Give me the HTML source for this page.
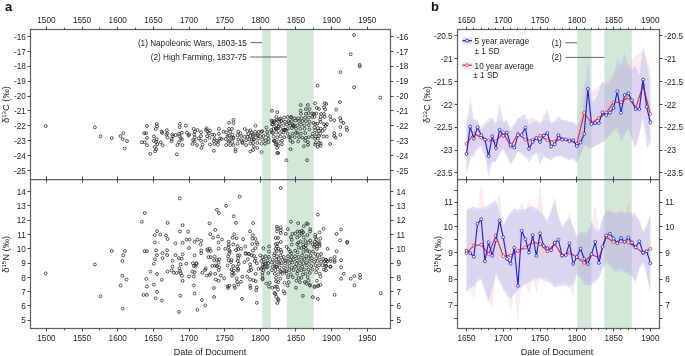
<!DOCTYPE html>
<html><head><meta charset="utf-8"><style>html,body{margin:0;padding:0;background:#fff;}body{width:685px;height:356px;position:relative;overflow:hidden;}</style></head>
<body>
<svg width="685" height="356" viewBox="0 0 685 356" style="position:absolute;left:0;top:0;will-change:transform"><rect x="262.30" y="29.50" width="8.60" height="299.00" fill="#d3e8d9"/><rect x="286.80" y="29.50" width="26.80" height="299.00" fill="#d3e8d9"/><g fill="none" stroke="#222" stroke-width="0.75"><circle cx="45.7" cy="126.0" r="1.45"/><circle cx="94.9" cy="127.4" r="1.45"/><circle cx="100.5" cy="136.3" r="1.45"/><circle cx="111.8" cy="138.0" r="1.45"/><circle cx="123.4" cy="133.2" r="1.45"/><circle cx="120.4" cy="136.1" r="1.45"/><circle cx="122.7" cy="139.2" r="1.45"/><circle cx="127.0" cy="141.1" r="1.45"/><circle cx="124.7" cy="148.4" r="1.45"/><circle cx="147.0" cy="125.9" r="1.45"/><circle cx="144.2" cy="133.2" r="1.45"/><circle cx="146.1" cy="133.2" r="1.45"/><circle cx="147.0" cy="138.0" r="1.45"/><circle cx="141.9" cy="142.3" r="1.45"/><circle cx="144.7" cy="142.3" r="1.45"/><circle cx="147.0" cy="145.3" r="1.45"/><circle cx="156.7" cy="124.0" r="1.45"/><circle cx="157.1" cy="126.2" r="1.45"/><circle cx="155.8" cy="129.0" r="1.45"/><circle cx="161.6" cy="131.6" r="1.45"/><circle cx="162.1" cy="133.0" r="1.45"/><circle cx="166.9" cy="130.2" r="1.45"/><circle cx="167.4" cy="133.5" r="1.45"/><circle cx="166.3" cy="134.7" r="1.45"/><circle cx="167.6" cy="137.5" r="1.45"/><circle cx="153.9" cy="136.3" r="1.45"/><circle cx="156.7" cy="139.2" r="1.45"/><circle cx="153.7" cy="140.8" r="1.45"/><circle cx="156.0" cy="142.0" r="1.45"/><circle cx="160.7" cy="142.3" r="1.45"/><circle cx="157.3" cy="144.2" r="1.45"/><circle cx="162.7" cy="145.3" r="1.45"/><circle cx="154.7" cy="147.0" r="1.45"/><circle cx="156.2" cy="149.3" r="1.45"/><circle cx="155.1" cy="151.2" r="1.45"/><circle cx="150.3" cy="153.8" r="1.45"/><circle cx="179.9" cy="123.8" r="1.45"/><circle cx="185.8" cy="125.7" r="1.45"/><circle cx="179.6" cy="127.2" r="1.45"/><circle cx="172.3" cy="134.5" r="1.45"/><circle cx="172.9" cy="136.2" r="1.45"/><circle cx="171.7" cy="139.0" r="1.45"/><circle cx="171.7" cy="141.2" r="1.45"/><circle cx="175.7" cy="135.0" r="1.45"/><circle cx="179.0" cy="133.9" r="1.45"/><circle cx="179.6" cy="136.2" r="1.45"/><circle cx="180.7" cy="138.4" r="1.45"/><circle cx="181.9" cy="139.5" r="1.45"/><circle cx="179.0" cy="142.3" r="1.45"/><circle cx="177.4" cy="145.1" r="1.45"/><circle cx="182.4" cy="145.1" r="1.45"/><circle cx="181.9" cy="132.8" r="1.45"/><circle cx="186.9" cy="132.8" r="1.45"/><circle cx="189.2" cy="134.5" r="1.45"/><circle cx="188.6" cy="135.6" r="1.45"/><circle cx="193.7" cy="128.9" r="1.45"/><circle cx="194.8" cy="131.7" r="1.45"/><circle cx="194.2" cy="134.5" r="1.45"/><circle cx="194.8" cy="137.3" r="1.45"/><circle cx="193.1" cy="140.1" r="1.45"/><circle cx="194.8" cy="141.2" r="1.45"/><circle cx="192.5" cy="144.0" r="1.45"/><circle cx="197.0" cy="145.1" r="1.45"/><circle cx="197.6" cy="130.0" r="1.45"/><circle cx="201.0" cy="132.2" r="1.45"/><circle cx="201.0" cy="136.2" r="1.45"/><circle cx="198.7" cy="138.4" r="1.45"/><circle cx="201.0" cy="140.7" r="1.45"/><circle cx="202.6" cy="144.6" r="1.45"/><circle cx="201.5" cy="148.0" r="1.45"/><circle cx="206.6" cy="128.3" r="1.45"/><circle cx="206.0" cy="130.0" r="1.45"/><circle cx="207.7" cy="131.7" r="1.45"/><circle cx="209.9" cy="130.5" r="1.45"/><circle cx="208.8" cy="133.3" r="1.45"/><circle cx="207.1" cy="136.2" r="1.45"/><circle cx="209.4" cy="137.8" r="1.45"/><circle cx="205.4" cy="140.7" r="1.45"/><circle cx="209.9" cy="144.6" r="1.45"/><circle cx="212.2" cy="134.5" r="1.45"/><circle cx="214.4" cy="135.0" r="1.45"/><circle cx="214.4" cy="139.0" r="1.45"/><circle cx="213.9" cy="141.2" r="1.45"/><circle cx="217.2" cy="140.7" r="1.45"/><circle cx="217.8" cy="144.6" r="1.45"/><circle cx="214.4" cy="144.0" r="1.45"/><circle cx="218.9" cy="128.9" r="1.45"/><circle cx="218.9" cy="133.9" r="1.45"/><circle cx="220.1" cy="138.4" r="1.45"/><circle cx="221.7" cy="139.0" r="1.45"/><circle cx="218.4" cy="141.8" r="1.45"/><circle cx="223.4" cy="131.7" r="1.45"/><circle cx="226.2" cy="132.2" r="1.45"/><circle cx="227.4" cy="136.2" r="1.45"/><circle cx="225.7" cy="139.0" r="1.45"/><circle cx="226.2" cy="145.1" r="1.45"/><circle cx="229.0" cy="122.7" r="1.45"/><circle cx="233.5" cy="119.9" r="1.45"/><circle cx="233.5" cy="123.2" r="1.45"/><circle cx="229.0" cy="128.9" r="1.45"/><circle cx="231.9" cy="128.9" r="1.45"/><circle cx="230.2" cy="131.7" r="1.45"/><circle cx="232.4" cy="134.5" r="1.45"/><circle cx="229.0" cy="135.6" r="1.45"/><circle cx="231.3" cy="137.8" r="1.45"/><circle cx="233.5" cy="137.8" r="1.45"/><circle cx="228.5" cy="141.8" r="1.45"/><circle cx="232.4" cy="141.8" r="1.45"/><circle cx="230.2" cy="145.1" r="1.45"/><circle cx="233.5" cy="145.1" r="1.45"/><circle cx="213.9" cy="150.8" r="1.45"/><circle cx="176.8" cy="154.3" r="1.45"/><circle cx="354.1" cy="35.0" r="1.45"/><circle cx="350.7" cy="54.3" r="1.45"/><circle cx="359.7" cy="64.9" r="1.45"/><circle cx="359.7" cy="66.5" r="1.45"/><circle cx="340.5" cy="72.1" r="1.45"/><circle cx="317.6" cy="85.6" r="1.45"/><circle cx="354.1" cy="87.2" r="1.45"/><circle cx="380.4" cy="97.6" r="1.45"/><circle cx="339.9" cy="102.1" r="1.45"/><circle cx="315.1" cy="103.4" r="1.45"/><circle cx="324.6" cy="103.1" r="1.45"/><circle cx="326.3" cy="103.9" r="1.45"/><circle cx="316.7" cy="107.9" r="1.45"/><circle cx="319.0" cy="109.0" r="1.45"/><circle cx="324.0" cy="107.3" r="1.45"/><circle cx="325.2" cy="109.6" r="1.45"/><circle cx="336.2" cy="109.6" r="1.45"/><circle cx="312.2" cy="113.5" r="1.45"/><circle cx="313.9" cy="114.0" r="1.45"/><circle cx="316.2" cy="113.5" r="1.45"/><circle cx="321.2" cy="114.0" r="1.45"/><circle cx="324.0" cy="114.0" r="1.45"/><circle cx="312.2" cy="116.9" r="1.45"/><circle cx="314.5" cy="116.9" r="1.45"/><circle cx="320.7" cy="116.9" r="1.45"/><circle cx="324.6" cy="116.9" r="1.45"/><circle cx="330.2" cy="116.3" r="1.45"/><circle cx="330.8" cy="119.7" r="1.45"/><circle cx="334.2" cy="120.2" r="1.45"/><circle cx="340.3" cy="118.0" r="1.45"/><circle cx="340.9" cy="120.8" r="1.45"/><circle cx="343.5" cy="123.0" r="1.45"/><circle cx="320.1" cy="119.7" r="1.45"/><circle cx="320.7" cy="121.9" r="1.45"/><circle cx="313.4" cy="123.0" r="1.45"/><circle cx="315.1" cy="124.2" r="1.45"/><circle cx="317.3" cy="123.6" r="1.45"/><circle cx="324.0" cy="124.2" r="1.45"/><circle cx="326.9" cy="124.2" r="1.45"/><circle cx="325.7" cy="125.8" r="1.45"/><circle cx="314.5" cy="127.5" r="1.45"/><circle cx="317.9" cy="128.1" r="1.45"/><circle cx="320.7" cy="128.7" r="1.45"/><circle cx="324.6" cy="128.7" r="1.45"/><circle cx="340.3" cy="127.0" r="1.45"/><circle cx="346.5" cy="127.5" r="1.45"/><circle cx="347.1" cy="130.1" r="1.45"/><circle cx="315.1" cy="130.3" r="1.45"/><circle cx="319.0" cy="130.9" r="1.45"/><circle cx="322.4" cy="130.9" r="1.45"/><circle cx="312.8" cy="133.7" r="1.45"/><circle cx="316.7" cy="133.7" r="1.45"/><circle cx="320.1" cy="133.7" r="1.45"/><circle cx="334.2" cy="133.1" r="1.45"/><circle cx="334.2" cy="136.0" r="1.45"/><circle cx="340.3" cy="134.8" r="1.45"/><circle cx="312.2" cy="136.5" r="1.45"/><circle cx="315.6" cy="136.5" r="1.45"/><circle cx="319.0" cy="136.0" r="1.45"/><circle cx="323.5" cy="136.5" r="1.45"/><circle cx="326.9" cy="136.5" r="1.45"/><circle cx="335.8" cy="137.6" r="1.45"/><circle cx="315.1" cy="138.8" r="1.45"/><circle cx="317.9" cy="138.8" r="1.45"/><circle cx="315.6" cy="142.9" r="1.45"/><circle cx="319.0" cy="142.9" r="1.45"/><circle cx="320.7" cy="143.4" r="1.45"/><circle cx="315.1" cy="144.6" r="1.45"/><circle cx="317.9" cy="146.8" r="1.45"/><circle cx="320.7" cy="145.7" r="1.45"/><circle cx="330.2" cy="144.0" r="1.45"/><circle cx="300.6" cy="105.0" r="1.45"/><circle cx="307.8" cy="105.0" r="1.45"/><circle cx="300.6" cy="110.5" r="1.45"/><circle cx="305.9" cy="109.1" r="1.45"/><circle cx="309.5" cy="109.1" r="1.45"/><circle cx="272.0" cy="110.8" r="1.45"/><circle cx="277.2" cy="112.2" r="1.45"/><circle cx="300.9" cy="113.8" r="1.45"/><circle cx="305.9" cy="113.8" r="1.45"/><circle cx="308.8" cy="113.1" r="1.45"/><circle cx="255.6" cy="125.7" r="1.45"/><circle cx="244.7" cy="129.0" r="1.45"/><circle cx="238.3" cy="131.8" r="1.45"/><circle cx="240.4" cy="133.2" r="1.45"/><circle cx="247.5" cy="131.1" r="1.45"/><circle cx="250.3" cy="130.4" r="1.45"/><circle cx="251.7" cy="132.5" r="1.45"/><circle cx="248.2" cy="133.9" r="1.45"/><circle cx="255.2" cy="131.8" r="1.45"/><circle cx="258.7" cy="131.8" r="1.45"/><circle cx="262.2" cy="131.1" r="1.45"/><circle cx="266.4" cy="127.6" r="1.45"/><circle cx="267.1" cy="131.8" r="1.45"/><circle cx="237.6" cy="135.3" r="1.45"/><circle cx="241.2" cy="136.0" r="1.45"/><circle cx="244.7" cy="136.7" r="1.45"/><circle cx="247.5" cy="136.7" r="1.45"/><circle cx="250.3" cy="136.0" r="1.45"/><circle cx="253.1" cy="136.0" r="1.45"/><circle cx="256.6" cy="135.3" r="1.45"/><circle cx="260.1" cy="136.0" r="1.45"/><circle cx="263.6" cy="136.0" r="1.45"/><circle cx="267.8" cy="135.3" r="1.45"/><circle cx="268.5" cy="138.8" r="1.45"/><circle cx="238.3" cy="139.5" r="1.45"/><circle cx="241.9" cy="140.2" r="1.45"/><circle cx="246.1" cy="140.2" r="1.45"/><circle cx="249.6" cy="139.5" r="1.45"/><circle cx="253.8" cy="139.5" r="1.45"/><circle cx="258.0" cy="138.8" r="1.45"/><circle cx="262.2" cy="139.5" r="1.45"/><circle cx="265.7" cy="140.2" r="1.45"/><circle cx="237.6" cy="143.7" r="1.45"/><circle cx="242.6" cy="143.0" r="1.45"/><circle cx="250.3" cy="143.7" r="1.45"/><circle cx="253.1" cy="143.0" r="1.45"/><circle cx="257.3" cy="143.0" r="1.45"/><circle cx="261.5" cy="143.7" r="1.45"/><circle cx="265.0" cy="143.7" r="1.45"/><circle cx="246.1" cy="145.1" r="1.45"/><circle cx="253.8" cy="146.5" r="1.45"/><circle cx="257.3" cy="147.9" r="1.45"/><circle cx="253.1" cy="150.0" r="1.45"/><circle cx="250.3" cy="151.4" r="1.45"/><circle cx="235.5" cy="149.3" r="1.45"/><circle cx="235.5" cy="151.4" r="1.45"/><circle cx="261.5" cy="152.1" r="1.45"/><circle cx="268.5" cy="142.3" r="1.45"/><circle cx="276.4" cy="116.9" r="1.45"/><circle cx="280.6" cy="118.3" r="1.45"/><circle cx="284.2" cy="117.6" r="1.45"/><circle cx="287.7" cy="116.9" r="1.45"/><circle cx="291.2" cy="116.9" r="1.45"/><circle cx="294.7" cy="118.3" r="1.45"/><circle cx="298.2" cy="118.3" r="1.45"/><circle cx="301.7" cy="118.3" r="1.45"/><circle cx="305.2" cy="117.6" r="1.45"/><circle cx="308.7" cy="117.6" r="1.45"/><circle cx="274.3" cy="121.1" r="1.45"/><circle cx="277.8" cy="121.1" r="1.45"/><circle cx="281.3" cy="121.1" r="1.45"/><circle cx="284.9" cy="121.8" r="1.45"/><circle cx="288.4" cy="121.1" r="1.45"/><circle cx="291.9" cy="121.1" r="1.45"/><circle cx="295.4" cy="120.4" r="1.45"/><circle cx="298.9" cy="121.1" r="1.45"/><circle cx="302.4" cy="121.1" r="1.45"/><circle cx="305.9" cy="121.1" r="1.45"/><circle cx="309.4" cy="121.8" r="1.45"/><circle cx="272.9" cy="124.6" r="1.45"/><circle cx="276.4" cy="125.3" r="1.45"/><circle cx="279.9" cy="124.6" r="1.45"/><circle cx="283.4" cy="125.3" r="1.45"/><circle cx="287.0" cy="124.6" r="1.45"/><circle cx="290.5" cy="125.3" r="1.45"/><circle cx="294.0" cy="125.3" r="1.45"/><circle cx="297.5" cy="125.3" r="1.45"/><circle cx="301.0" cy="124.6" r="1.45"/><circle cx="304.5" cy="125.3" r="1.45"/><circle cx="308.7" cy="125.3" r="1.45"/><circle cx="273.6" cy="128.8" r="1.45"/><circle cx="277.1" cy="128.8" r="1.45"/><circle cx="280.6" cy="128.8" r="1.45"/><circle cx="284.2" cy="129.5" r="1.45"/><circle cx="287.7" cy="128.8" r="1.45"/><circle cx="291.9" cy="128.1" r="1.45"/><circle cx="296.1" cy="128.8" r="1.45"/><circle cx="300.3" cy="128.8" r="1.45"/><circle cx="304.5" cy="128.8" r="1.45"/><circle cx="309.4" cy="129.5" r="1.45"/><circle cx="272.9" cy="133.0" r="1.45"/><circle cx="276.4" cy="132.3" r="1.45"/><circle cx="279.9" cy="133.0" r="1.45"/><circle cx="283.4" cy="132.3" r="1.45"/><circle cx="287.7" cy="133.7" r="1.45"/><circle cx="292.6" cy="133.7" r="1.45"/><circle cx="297.5" cy="133.0" r="1.45"/><circle cx="301.0" cy="133.7" r="1.45"/><circle cx="305.2" cy="133.0" r="1.45"/><circle cx="273.6" cy="136.5" r="1.45"/><circle cx="277.1" cy="137.2" r="1.45"/><circle cx="280.6" cy="136.5" r="1.45"/><circle cx="284.2" cy="137.2" r="1.45"/><circle cx="289.1" cy="137.2" r="1.45"/><circle cx="294.7" cy="137.2" r="1.45"/><circle cx="298.9" cy="137.2" r="1.45"/><circle cx="302.4" cy="137.9" r="1.45"/><circle cx="305.9" cy="137.9" r="1.45"/><circle cx="308.7" cy="137.2" r="1.45"/><circle cx="274.3" cy="140.7" r="1.45"/><circle cx="278.5" cy="141.4" r="1.45"/><circle cx="282.0" cy="140.7" r="1.45"/><circle cx="290.5" cy="140.7" r="1.45"/><circle cx="292.6" cy="142.1" r="1.45"/><circle cx="298.2" cy="141.4" r="1.45"/><circle cx="305.2" cy="140.7" r="1.45"/><circle cx="308.0" cy="142.1" r="1.45"/><circle cx="275.7" cy="144.2" r="1.45"/><circle cx="278.5" cy="145.6" r="1.45"/><circle cx="282.0" cy="144.2" r="1.45"/><circle cx="303.8" cy="146.3" r="1.45"/><circle cx="308.0" cy="144.9" r="1.45"/><circle cx="290.5" cy="149.2" r="1.45"/><circle cx="277.1" cy="147.8" r="1.45"/><circle cx="277.2" cy="153.0" r="1.45"/><circle cx="278.2" cy="153.0" r="1.45"/><circle cx="286.4" cy="160.2" r="1.45"/><circle cx="307.1" cy="160.2" r="1.45"/><circle cx="273.9" cy="122.2" r="1.45"/><circle cx="276.9" cy="120.0" r="1.45"/><circle cx="275.8" cy="128.2" r="1.45"/><circle cx="271.5" cy="132.2" r="1.45"/><circle cx="271.3" cy="130.1" r="1.45"/><circle cx="271.6" cy="120.5" r="1.45"/><circle cx="274.8" cy="141.2" r="1.45"/><circle cx="272.1" cy="124.3" r="1.45"/><circle cx="276.6" cy="144.5" r="1.45"/><circle cx="276.2" cy="129.1" r="1.45"/><circle cx="279.8" cy="119.3" r="1.45"/><circle cx="278.7" cy="126.1" r="1.45"/><circle cx="272.3" cy="121.3" r="1.45"/><circle cx="273.8" cy="140.9" r="1.45"/><circle cx="283.6" cy="130.0" r="1.45"/><circle cx="292.8" cy="124.9" r="1.45"/><circle cx="291.0" cy="117.5" r="1.45"/><circle cx="281.2" cy="120.9" r="1.45"/><circle cx="293.6" cy="126.3" r="1.45"/><circle cx="286.3" cy="130.1" r="1.45"/><circle cx="289.1" cy="123.2" r="1.45"/><circle cx="295.9" cy="132.8" r="1.45"/><circle cx="284.9" cy="129.8" r="1.45"/><circle cx="290.5" cy="137.0" r="1.45"/><circle cx="252.8" cy="134.6" r="1.45"/><circle cx="261.3" cy="131.9" r="1.45"/><circle cx="242.2" cy="142.1" r="1.45"/><circle cx="233.2" cy="137.8" r="1.45"/><circle cx="229.3" cy="140.7" r="1.45"/><circle cx="254.0" cy="139.2" r="1.45"/><circle cx="257.8" cy="135.0" r="1.45"/><circle cx="251.6" cy="139.5" r="1.45"/></g><g fill="none" stroke="#222" stroke-width="0.75"><circle cx="45.7" cy="273.4" r="1.45"/><circle cx="94.9" cy="264.5" r="1.45"/><circle cx="100.5" cy="296.2" r="1.45"/><circle cx="111.8" cy="251.0" r="1.45"/><circle cx="124.9" cy="251.0" r="1.45"/><circle cx="123.3" cy="255.2" r="1.45"/><circle cx="122.4" cy="261.1" r="1.45"/><circle cx="122.4" cy="275.8" r="1.45"/><circle cx="126.6" cy="279.6" r="1.45"/><circle cx="120.6" cy="285.5" r="1.45"/><circle cx="179.8" cy="198.4" r="1.45"/><circle cx="144.8" cy="213.0" r="1.45"/><circle cx="141.8" cy="221.7" r="1.45"/><circle cx="167.6" cy="222.9" r="1.45"/><circle cx="182.6" cy="225.2" r="1.45"/><circle cx="157.0" cy="231.2" r="1.45"/><circle cx="154.7" cy="235.1" r="1.45"/><circle cx="160.3" cy="234.6" r="1.45"/><circle cx="166.0" cy="235.4" r="1.45"/><circle cx="167.6" cy="239.0" r="1.45"/><circle cx="180.0" cy="231.5" r="1.45"/><circle cx="188.2" cy="231.7" r="1.45"/><circle cx="154.7" cy="242.4" r="1.45"/><circle cx="175.5" cy="243.3" r="1.45"/><circle cx="182.6" cy="242.8" r="1.45"/><circle cx="186.7" cy="239.6" r="1.45"/><circle cx="189.6" cy="239.6" r="1.45"/><circle cx="194.6" cy="241.9" r="1.45"/><circle cx="197.4" cy="239.6" r="1.45"/><circle cx="189.0" cy="248.0" r="1.45"/><circle cx="144.6" cy="251.2" r="1.45"/><circle cx="146.9" cy="251.2" r="1.45"/><circle cx="156.1" cy="250.3" r="1.45"/><circle cx="167.1" cy="250.3" r="1.45"/><circle cx="162.6" cy="253.1" r="1.45"/><circle cx="157.0" cy="255.1" r="1.45"/><circle cx="167.1" cy="255.1" r="1.45"/><circle cx="162.6" cy="258.1" r="1.45"/><circle cx="175.5" cy="255.1" r="1.45"/><circle cx="182.6" cy="254.4" r="1.45"/><circle cx="178.9" cy="258.1" r="1.45"/><circle cx="181.7" cy="258.7" r="1.45"/><circle cx="194.6" cy="255.3" r="1.45"/><circle cx="154.9" cy="259.3" r="1.45"/><circle cx="172.5" cy="260.7" r="1.45"/><circle cx="153.8" cy="263.8" r="1.45"/><circle cx="180.6" cy="264.3" r="1.45"/><circle cx="186.2" cy="263.8" r="1.45"/><circle cx="192.9" cy="263.2" r="1.45"/><circle cx="196.3" cy="263.2" r="1.45"/><circle cx="172.5" cy="266.5" r="1.45"/><circle cx="179.4" cy="268.2" r="1.45"/><circle cx="150.4" cy="271.6" r="1.45"/><circle cx="157.0" cy="274.1" r="1.45"/><circle cx="167.6" cy="271.6" r="1.45"/><circle cx="171.6" cy="270.4" r="1.45"/><circle cx="173.8" cy="272.7" r="1.45"/><circle cx="176.6" cy="273.0" r="1.45"/><circle cx="180.0" cy="271.0" r="1.45"/><circle cx="180.6" cy="273.2" r="1.45"/><circle cx="181.9" cy="275.7" r="1.45"/><circle cx="192.4" cy="271.6" r="1.45"/><circle cx="194.6" cy="272.3" r="1.45"/><circle cx="194.0" cy="265.9" r="1.45"/><circle cx="189.0" cy="276.4" r="1.45"/><circle cx="193.8" cy="276.4" r="1.45"/><circle cx="146.3" cy="278.9" r="1.45"/><circle cx="161.8" cy="279.8" r="1.45"/><circle cx="182.6" cy="280.9" r="1.45"/><circle cx="153.9" cy="284.5" r="1.45"/><circle cx="146.9" cy="286.5" r="1.45"/><circle cx="193.8" cy="285.4" r="1.45"/><circle cx="157.0" cy="291.8" r="1.45"/><circle cx="143.5" cy="294.9" r="1.45"/><circle cx="146.9" cy="294.9" r="1.45"/><circle cx="180.3" cy="295.7" r="1.45"/><circle cx="194.6" cy="293.5" r="1.45"/><circle cx="155.6" cy="298.3" r="1.45"/><circle cx="161.8" cy="300.5" r="1.45"/><circle cx="179.0" cy="311.9" r="1.45"/><circle cx="197.4" cy="309.8" r="1.45"/><circle cx="239.7" cy="196.6" r="1.45"/><circle cx="226.1" cy="205.8" r="1.45"/><circle cx="216.9" cy="209.8" r="1.45"/><circle cx="218.9" cy="213.1" r="1.45"/><circle cx="233.8" cy="216.3" r="1.45"/><circle cx="209.6" cy="223.4" r="1.45"/><circle cx="236.0" cy="222.9" r="1.45"/><circle cx="253.2" cy="223.1" r="1.45"/><circle cx="215.2" cy="229.9" r="1.45"/><circle cx="210.2" cy="234.1" r="1.45"/><circle cx="213.0" cy="237.7" r="1.45"/><circle cx="218.0" cy="236.6" r="1.45"/><circle cx="222.0" cy="239.5" r="1.45"/><circle cx="218.6" cy="242.5" r="1.45"/><circle cx="234.3" cy="234.3" r="1.45"/><circle cx="232.6" cy="237.7" r="1.45"/><circle cx="236.6" cy="238.3" r="1.45"/><circle cx="243.1" cy="239.2" r="1.45"/><circle cx="250.1" cy="231.3" r="1.45"/><circle cx="252.9" cy="235.2" r="1.45"/><circle cx="252.3" cy="238.6" r="1.45"/><circle cx="255.4" cy="238.8" r="1.45"/><circle cx="256.6" cy="242.5" r="1.45"/><circle cx="257.4" cy="244.4" r="1.45"/><circle cx="252.3" cy="244.0" r="1.45"/><circle cx="255.4" cy="248.1" r="1.45"/><circle cx="252.9" cy="250.7" r="1.45"/><circle cx="201.2" cy="240.8" r="1.45"/><circle cx="200.6" cy="244.4" r="1.45"/><circle cx="228.7" cy="241.7" r="1.45"/><circle cx="233.2" cy="244.4" r="1.45"/><circle cx="228.7" cy="244.8" r="1.45"/><circle cx="228.7" cy="247.0" r="1.45"/><circle cx="237.7" cy="246.2" r="1.45"/><circle cx="241.1" cy="248.7" r="1.45"/><circle cx="245.3" cy="246.5" r="1.45"/><circle cx="218.6" cy="248.5" r="1.45"/><circle cx="225.3" cy="248.9" r="1.45"/><circle cx="229.3" cy="250.4" r="1.45"/><circle cx="229.8" cy="251.5" r="1.45"/><circle cx="236.0" cy="250.1" r="1.45"/><circle cx="238.3" cy="249.3" r="1.45"/><circle cx="207.4" cy="249.3" r="1.45"/><circle cx="209.6" cy="248.7" r="1.45"/><circle cx="210.7" cy="251.0" r="1.45"/><circle cx="207.9" cy="250.7" r="1.45"/><circle cx="201.2" cy="250.4" r="1.45"/><circle cx="201.2" cy="253.2" r="1.45"/><circle cx="263.3" cy="248.1" r="1.45"/><circle cx="245.6" cy="253.2" r="1.45"/><circle cx="248.9" cy="253.8" r="1.45"/><circle cx="208.5" cy="257.1" r="1.45"/><circle cx="210.7" cy="257.1" r="1.45"/><circle cx="214.7" cy="256.5" r="1.45"/><circle cx="214.1" cy="260.4" r="1.45"/><circle cx="216.9" cy="259.9" r="1.45"/><circle cx="219.2" cy="259.3" r="1.45"/><circle cx="218.6" cy="262.7" r="1.45"/><circle cx="212.4" cy="266.0" r="1.45"/><circle cx="215.2" cy="265.5" r="1.45"/><circle cx="216.9" cy="266.0" r="1.45"/><circle cx="219.2" cy="267.2" r="1.45"/><circle cx="218.6" cy="270.0" r="1.45"/><circle cx="196.7" cy="263.8" r="1.45"/><circle cx="195.6" cy="266.6" r="1.45"/><circle cx="205.7" cy="268.3" r="1.45"/><circle cx="205.1" cy="270.0" r="1.45"/><circle cx="202.3" cy="272.8" r="1.45"/><circle cx="206.8" cy="275.6" r="1.45"/><circle cx="209.6" cy="275.0" r="1.45"/><circle cx="210.5" cy="273.3" r="1.45"/><circle cx="215.2" cy="273.9" r="1.45"/><circle cx="220.8" cy="275.6" r="1.45"/><circle cx="224.2" cy="278.4" r="1.45"/><circle cx="215.8" cy="279.5" r="1.45"/><circle cx="218.6" cy="280.7" r="1.45"/><circle cx="213.9" cy="288.0" r="1.45"/><circle cx="228.1" cy="256.5" r="1.45"/><circle cx="229.3" cy="253.7" r="1.45"/><circle cx="228.7" cy="260.4" r="1.45"/><circle cx="231.5" cy="259.9" r="1.45"/><circle cx="231.0" cy="262.1" r="1.45"/><circle cx="227.6" cy="265.5" r="1.45"/><circle cx="233.2" cy="266.0" r="1.45"/><circle cx="231.5" cy="269.4" r="1.45"/><circle cx="233.8" cy="270.5" r="1.45"/><circle cx="232.1" cy="272.8" r="1.45"/><circle cx="233.8" cy="273.9" r="1.45"/><circle cx="232.1" cy="275.6" r="1.45"/><circle cx="237.7" cy="255.4" r="1.45"/><circle cx="239.4" cy="255.4" r="1.45"/><circle cx="238.3" cy="258.2" r="1.45"/><circle cx="237.7" cy="261.0" r="1.45"/><circle cx="238.8" cy="263.8" r="1.45"/><circle cx="237.1" cy="266.6" r="1.45"/><circle cx="238.3" cy="268.9" r="1.45"/><circle cx="237.7" cy="270.5" r="1.45"/><circle cx="244.4" cy="262.1" r="1.45"/><circle cx="247.8" cy="259.3" r="1.45"/><circle cx="246.1" cy="253.7" r="1.45"/><circle cx="248.9" cy="254.2" r="1.45"/><circle cx="251.7" cy="255.4" r="1.45"/><circle cx="254.0" cy="255.9" r="1.45"/><circle cx="255.7" cy="258.7" r="1.45"/><circle cx="254.6" cy="261.0" r="1.45"/><circle cx="256.8" cy="263.2" r="1.45"/><circle cx="250.1" cy="264.4" r="1.45"/><circle cx="250.6" cy="267.2" r="1.45"/><circle cx="251.2" cy="270.0" r="1.45"/><circle cx="248.9" cy="271.1" r="1.45"/><circle cx="255.7" cy="273.9" r="1.45"/><circle cx="258.5" cy="268.9" r="1.45"/><circle cx="261.3" cy="268.9" r="1.45"/><circle cx="260.2" cy="255.4" r="1.45"/><circle cx="262.4" cy="257.1" r="1.45"/><circle cx="261.3" cy="261.0" r="1.45"/><circle cx="263.0" cy="264.4" r="1.45"/><circle cx="262.4" cy="267.2" r="1.45"/><circle cx="262.4" cy="272.8" r="1.45"/><circle cx="262.4" cy="275.6" r="1.45"/><circle cx="262.4" cy="279.5" r="1.45"/><circle cx="242.2" cy="276.7" r="1.45"/><circle cx="247.2" cy="276.7" r="1.45"/><circle cx="250.1" cy="279.5" r="1.45"/><circle cx="253.4" cy="280.1" r="1.45"/><circle cx="255.7" cy="281.2" r="1.45"/><circle cx="236.6" cy="278.4" r="1.45"/><circle cx="237.1" cy="281.8" r="1.45"/><circle cx="238.3" cy="284.6" r="1.45"/><circle cx="241.1" cy="281.8" r="1.45"/><circle cx="227.6" cy="286.3" r="1.45"/><circle cx="229.3" cy="285.7" r="1.45"/><circle cx="228.1" cy="288.0" r="1.45"/><circle cx="234.3" cy="285.7" r="1.45"/><circle cx="234.9" cy="288.0" r="1.45"/><circle cx="250.1" cy="285.7" r="1.45"/><circle cx="250.6" cy="288.0" r="1.45"/><circle cx="256.8" cy="287.4" r="1.45"/><circle cx="256.2" cy="290.2" r="1.45"/><circle cx="202.0" cy="300.1" r="1.45"/><circle cx="205.3" cy="305.4" r="1.45"/><circle cx="214.1" cy="297.0" r="1.45"/><circle cx="242.0" cy="298.9" r="1.45"/><circle cx="256.8" cy="302.8" r="1.45"/><circle cx="280.8" cy="188.1" r="1.45"/><circle cx="317.9" cy="214.6" r="1.45"/><circle cx="290.9" cy="221.7" r="1.45"/><circle cx="298.2" cy="223.1" r="1.45"/><circle cx="306.6" cy="223.4" r="1.45"/><circle cx="307.8" cy="224.0" r="1.45"/><circle cx="303.8" cy="226.2" r="1.45"/><circle cx="276.9" cy="226.8" r="1.45"/><circle cx="277.4" cy="228.5" r="1.45"/><circle cx="280.8" cy="227.4" r="1.45"/><circle cx="280.8" cy="230.2" r="1.45"/><circle cx="276.9" cy="231.3" r="1.45"/><circle cx="280.8" cy="233.0" r="1.45"/><circle cx="275.7" cy="238.0" r="1.45"/><circle cx="278.0" cy="238.0" r="1.45"/><circle cx="280.8" cy="242.0" r="1.45"/><circle cx="275.7" cy="244.2" r="1.45"/><circle cx="277.4" cy="243.7" r="1.45"/><circle cx="276.9" cy="246.5" r="1.45"/><circle cx="275.7" cy="248.7" r="1.45"/><circle cx="278.5" cy="248.7" r="1.45"/><circle cx="276.9" cy="251.0" r="1.45"/><circle cx="274.6" cy="253.2" r="1.45"/><circle cx="280.8" cy="249.8" r="1.45"/><circle cx="281.3" cy="252.1" r="1.45"/><circle cx="269.0" cy="246.5" r="1.45"/><circle cx="269.0" cy="251.5" r="1.45"/><circle cx="269.0" cy="286.7" r="1.45"/><circle cx="272.4" cy="287.8" r="1.45"/><circle cx="275.2" cy="286.7" r="1.45"/><circle cx="278.0" cy="289.5" r="1.45"/><circle cx="276.9" cy="286.7" r="1.45"/><circle cx="274.6" cy="292.9" r="1.45"/><circle cx="275.2" cy="294.0" r="1.45"/><circle cx="276.3" cy="296.8" r="1.45"/><circle cx="278.0" cy="299.0" r="1.45"/><circle cx="278.5" cy="300.2" r="1.45"/><circle cx="277.4" cy="303.0" r="1.45"/><circle cx="283.6" cy="291.2" r="1.45"/><circle cx="284.7" cy="293.4" r="1.45"/><circle cx="287.5" cy="285.6" r="1.45"/><circle cx="296.0" cy="287.8" r="1.45"/><circle cx="302.9" cy="295.9" r="1.45"/><circle cx="312.8" cy="297.1" r="1.45"/><circle cx="317.9" cy="299.0" r="1.45"/><circle cx="310.0" cy="285.6" r="1.45"/><circle cx="314.5" cy="287.2" r="1.45"/><circle cx="317.9" cy="286.1" r="1.45"/><circle cx="341.1" cy="229.4" r="1.45"/><circle cx="336.6" cy="234.0" r="1.45"/><circle cx="340.2" cy="240.3" r="1.45"/><circle cx="347.2" cy="241.8" r="1.45"/><circle cx="347.2" cy="242.9" r="1.45"/><circle cx="336.6" cy="251.3" r="1.45"/><circle cx="334.6" cy="257.0" r="1.45"/><circle cx="330.6" cy="258.7" r="1.45"/><circle cx="330.6" cy="261.2" r="1.45"/><circle cx="334.6" cy="262.0" r="1.45"/><circle cx="334.6" cy="260.3" r="1.45"/><circle cx="326.1" cy="259.8" r="1.45"/><circle cx="325.6" cy="263.7" r="1.45"/><circle cx="326.1" cy="266.0" r="1.45"/><circle cx="341.1" cy="260.3" r="1.45"/><circle cx="330.6" cy="266.5" r="1.45"/><circle cx="341.1" cy="267.3" r="1.45"/><circle cx="343.9" cy="273.8" r="1.45"/><circle cx="341.1" cy="278.7" r="1.45"/><circle cx="350.8" cy="278.7" r="1.45"/><circle cx="354.4" cy="276.0" r="1.45"/><circle cx="360.1" cy="274.9" r="1.45"/><circle cx="360.1" cy="277.9" r="1.45"/><circle cx="354.4" cy="285.4" r="1.45"/><circle cx="334.6" cy="294.8" r="1.45"/><circle cx="380.8" cy="293.3" r="1.45"/><circle cx="265.5" cy="256.2" r="1.45"/><circle cx="269.0" cy="256.9" r="1.45"/><circle cx="274.0" cy="255.4" r="1.45"/><circle cx="276.8" cy="256.2" r="1.45"/><circle cx="280.3" cy="255.4" r="1.45"/><circle cx="283.8" cy="256.9" r="1.45"/><circle cx="288.0" cy="256.2" r="1.45"/><circle cx="291.5" cy="256.9" r="1.45"/><circle cx="295.0" cy="256.2" r="1.45"/><circle cx="298.5" cy="256.9" r="1.45"/><circle cx="302.1" cy="255.4" r="1.45"/><circle cx="263.4" cy="259.7" r="1.45"/><circle cx="267.6" cy="260.4" r="1.45"/><circle cx="272.6" cy="259.7" r="1.45"/><circle cx="276.1" cy="259.7" r="1.45"/><circle cx="278.9" cy="259.0" r="1.45"/><circle cx="282.4" cy="259.7" r="1.45"/><circle cx="286.6" cy="260.4" r="1.45"/><circle cx="290.1" cy="259.7" r="1.45"/><circle cx="293.6" cy="259.7" r="1.45"/><circle cx="297.1" cy="260.4" r="1.45"/><circle cx="301.3" cy="259.7" r="1.45"/><circle cx="264.8" cy="263.9" r="1.45"/><circle cx="268.3" cy="263.2" r="1.45"/><circle cx="271.9" cy="262.5" r="1.45"/><circle cx="274.7" cy="263.2" r="1.45"/><circle cx="278.2" cy="262.5" r="1.45"/><circle cx="281.7" cy="263.2" r="1.45"/><circle cx="285.2" cy="263.2" r="1.45"/><circle cx="289.4" cy="263.2" r="1.45"/><circle cx="292.2" cy="262.5" r="1.45"/><circle cx="296.4" cy="263.9" r="1.45"/><circle cx="299.9" cy="263.2" r="1.45"/><circle cx="303.5" cy="263.2" r="1.45"/><circle cx="264.1" cy="267.4" r="1.45"/><circle cx="267.6" cy="266.7" r="1.45"/><circle cx="272.6" cy="266.7" r="1.45"/><circle cx="276.1" cy="266.7" r="1.45"/><circle cx="279.6" cy="267.4" r="1.45"/><circle cx="283.8" cy="267.4" r="1.45"/><circle cx="287.3" cy="266.7" r="1.45"/><circle cx="291.5" cy="267.4" r="1.45"/><circle cx="295.0" cy="266.7" r="1.45"/><circle cx="298.5" cy="267.4" r="1.45"/><circle cx="302.1" cy="266.7" r="1.45"/><circle cx="263.4" cy="270.2" r="1.45"/><circle cx="271.9" cy="270.2" r="1.45"/><circle cx="275.4" cy="270.2" r="1.45"/><circle cx="280.3" cy="270.9" r="1.45"/><circle cx="284.5" cy="270.9" r="1.45"/><circle cx="289.4" cy="270.2" r="1.45"/><circle cx="293.6" cy="270.2" r="1.45"/><circle cx="297.8" cy="270.9" r="1.45"/><circle cx="301.3" cy="270.2" r="1.45"/><circle cx="268.3" cy="273.0" r="1.45"/><circle cx="274.7" cy="273.7" r="1.45"/><circle cx="278.2" cy="274.4" r="1.45"/><circle cx="282.4" cy="273.7" r="1.45"/><circle cx="286.6" cy="273.7" r="1.45"/><circle cx="290.8" cy="274.4" r="1.45"/><circle cx="297.1" cy="273.7" r="1.45"/><circle cx="302.8" cy="274.4" r="1.45"/><circle cx="262.7" cy="278.6" r="1.45"/><circle cx="276.1" cy="277.9" r="1.45"/><circle cx="280.3" cy="278.6" r="1.45"/><circle cx="288.0" cy="277.2" r="1.45"/><circle cx="292.9" cy="277.2" r="1.45"/><circle cx="298.5" cy="277.9" r="1.45"/><circle cx="301.3" cy="277.9" r="1.45"/><circle cx="266.2" cy="283.5" r="1.45"/><circle cx="269.7" cy="282.8" r="1.45"/><circle cx="276.1" cy="281.4" r="1.45"/><circle cx="278.2" cy="282.1" r="1.45"/><circle cx="284.5" cy="282.8" r="1.45"/><circle cx="288.7" cy="282.1" r="1.45"/><circle cx="296.4" cy="280.7" r="1.45"/><circle cx="299.9" cy="282.1" r="1.45"/><circle cx="315.4" cy="254.0" r="1.45"/><circle cx="317.6" cy="254.7" r="1.45"/><circle cx="321.1" cy="254.0" r="1.45"/><circle cx="306.3" cy="256.2" r="1.45"/><circle cx="310.5" cy="255.4" r="1.45"/><circle cx="316.2" cy="258.3" r="1.45"/><circle cx="319.7" cy="257.6" r="1.45"/><circle cx="323.2" cy="259.0" r="1.45"/><circle cx="326.0" cy="259.7" r="1.45"/><circle cx="304.2" cy="259.0" r="1.45"/><circle cx="308.4" cy="258.3" r="1.45"/><circle cx="311.9" cy="258.3" r="1.45"/><circle cx="314.0" cy="261.8" r="1.45"/><circle cx="317.6" cy="261.1" r="1.45"/><circle cx="321.1" cy="261.8" r="1.45"/><circle cx="324.6" cy="261.1" r="1.45"/><circle cx="327.4" cy="261.1" r="1.45"/><circle cx="306.3" cy="262.5" r="1.45"/><circle cx="309.8" cy="261.8" r="1.45"/><circle cx="315.4" cy="265.3" r="1.45"/><circle cx="319.0" cy="265.3" r="1.45"/><circle cx="322.5" cy="265.3" r="1.45"/><circle cx="326.0" cy="266.0" r="1.45"/><circle cx="330.2" cy="266.7" r="1.45"/><circle cx="307.0" cy="265.3" r="1.45"/><circle cx="311.2" cy="266.0" r="1.45"/><circle cx="316.9" cy="268.8" r="1.45"/><circle cx="323.9" cy="269.5" r="1.45"/><circle cx="326.0" cy="270.2" r="1.45"/><circle cx="304.2" cy="269.5" r="1.45"/><circle cx="308.4" cy="269.5" r="1.45"/><circle cx="312.6" cy="269.5" r="1.45"/><circle cx="316.2" cy="272.3" r="1.45"/><circle cx="319.7" cy="273.7" r="1.45"/><circle cx="305.6" cy="273.7" r="1.45"/><circle cx="309.8" cy="273.0" r="1.45"/><circle cx="320.4" cy="276.5" r="1.45"/><circle cx="307.7" cy="277.2" r="1.45"/><circle cx="316.9" cy="280.7" r="1.45"/><circle cx="308.4" cy="280.7" r="1.45"/><circle cx="304.9" cy="282.1" r="1.45"/><circle cx="320.4" cy="284.9" r="1.45"/><circle cx="318.3" cy="285.6" r="1.45"/><circle cx="314.7" cy="286.3" r="1.45"/><circle cx="309.8" cy="284.9" r="1.45"/><circle cx="306.3" cy="283.5" r="1.45"/><circle cx="122.7" cy="308.5" r="1.45"/><circle cx="287.8" cy="229.2" r="1.45"/><circle cx="285.8" cy="233.9" r="1.45"/><circle cx="292.5" cy="233.9" r="1.45"/><circle cx="295.2" cy="233.5" r="1.45"/><circle cx="297.6" cy="231.5" r="1.45"/><circle cx="299.6" cy="231.5" r="1.45"/><circle cx="301.9" cy="230.8" r="1.45"/><circle cx="303.1" cy="232.3" r="1.45"/><circle cx="301.9" cy="233.5" r="1.45"/><circle cx="290.9" cy="237.1" r="1.45"/><circle cx="291.7" cy="239.8" r="1.45"/><circle cx="297.2" cy="237.4" r="1.45"/><circle cx="299.6" cy="235.5" r="1.45"/><circle cx="303.9" cy="237.4" r="1.45"/><circle cx="307.4" cy="235.1" r="1.45"/><circle cx="310.2" cy="229.2" r="1.45"/><circle cx="310.2" cy="231.5" r="1.45"/><circle cx="319.6" cy="232.3" r="1.45"/><circle cx="323.6" cy="228.8" r="1.45"/><circle cx="315.3" cy="234.7" r="1.45"/><circle cx="315.3" cy="237.1" r="1.45"/><circle cx="316.1" cy="239.0" r="1.45"/><circle cx="320.4" cy="238.6" r="1.45"/><circle cx="310.2" cy="240.6" r="1.45"/><circle cx="305.5" cy="241.0" r="1.45"/><circle cx="300.7" cy="241.4" r="1.45"/><circle cx="298.4" cy="242.6" r="1.45"/><circle cx="297.2" cy="244.1" r="1.45"/><circle cx="291.7" cy="244.5" r="1.45"/><circle cx="303.1" cy="244.5" r="1.45"/><circle cx="305.9" cy="245.3" r="1.45"/><circle cx="308.6" cy="242.6" r="1.45"/><circle cx="312.6" cy="244.1" r="1.45"/><circle cx="314.9" cy="241.8" r="1.45"/><circle cx="316.9" cy="243.0" r="1.45"/><circle cx="318.9" cy="242.2" r="1.45"/><circle cx="319.6" cy="244.1" r="1.45"/><circle cx="314.9" cy="244.9" r="1.45"/><circle cx="316.9" cy="246.5" r="1.45"/><circle cx="319.6" cy="246.1" r="1.45"/><circle cx="314.1" cy="246.9" r="1.45"/><circle cx="286.6" cy="246.9" r="1.45"/><circle cx="288.5" cy="249.3" r="1.45"/><circle cx="298.8" cy="247.7" r="1.45"/><circle cx="301.5" cy="248.1" r="1.45"/><circle cx="303.9" cy="247.3" r="1.45"/><circle cx="305.9" cy="248.9" r="1.45"/><circle cx="307.4" cy="250.8" r="1.45"/><circle cx="309.4" cy="251.6" r="1.45"/><circle cx="295.2" cy="250.8" r="1.45"/><circle cx="297.6" cy="252.4" r="1.45"/><circle cx="303.5" cy="252.0" r="1.45"/><circle cx="313.0" cy="251.6" r="1.45"/><circle cx="316.9" cy="248.9" r="1.45"/><circle cx="327.5" cy="248.9" r="1.45"/><circle cx="290.1" cy="251.6" r="1.45"/><circle cx="291.3" cy="253.2" r="1.45"/><circle cx="279.5" cy="263.3" r="1.45"/><circle cx="286.0" cy="271.1" r="1.45"/><circle cx="276.9" cy="266.6" r="1.45"/><circle cx="266.5" cy="267.2" r="1.45"/><circle cx="281.2" cy="271.9" r="1.45"/><circle cx="285.5" cy="260.6" r="1.45"/><circle cx="274.6" cy="266.7" r="1.45"/><circle cx="265.6" cy="263.4" r="1.45"/></g><g stroke="#626262" stroke-width="1.25" fill="none"><rect x="30.5" y="29.5" width="360.0" height="299.0"/><line x1="30.5" y1="179.5" x2="390.5" y2="179.5"/></g><path d="M46.5 29.5v-3M46.5 328.5v3M46.5 176.5v6M64.5 29.5v-1.8M64.5 328.5v1.8M82.5 29.5v-3M82.5 328.5v3M82.5 176.5v6M99.5 29.5v-1.8M99.5 328.5v1.8M117.5 29.5v-3M117.5 328.5v3M117.5 176.5v6M135.5 29.5v-1.8M135.5 328.5v1.8M153.5 29.5v-3M153.5 328.5v3M153.5 176.5v6M171.5 29.5v-1.8M171.5 328.5v1.8M189.5 29.5v-3M189.5 328.5v3M189.5 176.5v6M206.5 29.5v-1.8M206.5 328.5v1.8M224.5 29.5v-3M224.5 328.5v3M224.5 176.5v6M242.5 29.5v-1.8M242.5 328.5v1.8M260.5 29.5v-3M260.5 328.5v3M260.5 176.5v6M278.5 29.5v-1.8M278.5 328.5v1.8M295.5 29.5v-3M295.5 328.5v3M295.5 176.5v6M313.5 29.5v-1.8M313.5 328.5v1.8M331.5 29.5v-3M331.5 328.5v3M331.5 176.5v6M349.5 29.5v-1.8M349.5 328.5v1.8M367.5 29.5v-3M367.5 328.5v3M367.5 176.5v6M30.5 170.50h-3M390.5 170.50h3M30.5 155.50h-3M390.5 155.50h3M30.5 140.50h-3M390.5 140.50h3M30.5 125.50h-3M390.5 125.50h3M30.5 110.50h-3M390.5 110.50h3M30.5 96.50h-3M390.5 96.50h3M30.5 81.50h-3M390.5 81.50h3M30.5 66.50h-3M390.5 66.50h3M30.5 51.50h-3M390.5 51.50h3M30.5 36.50h-3M390.5 36.50h3M30.5 320.50h-3M390.5 320.50h3M30.5 305.50h-3M390.5 305.50h3M30.5 291.50h-3M390.5 291.50h3M30.5 277.50h-3M390.5 277.50h3M30.5 263.50h-3M390.5 263.50h3M30.5 248.50h-3M390.5 248.50h3M30.5 234.50h-3M390.5 234.50h3M30.5 220.50h-3M390.5 220.50h3M30.5 205.50h-3M390.5 205.50h3M30.5 191.50h-3M390.5 191.50h3" stroke="#333" stroke-width="0.9" fill="none"/><g font-family="Liberation Sans, sans-serif" font-size="8.2" fill="#222"><text x="46.40" y="22.8" text-anchor="middle">1500</text><text x="46.40" y="341.2" text-anchor="middle">1500</text><text x="82.06" y="22.8" text-anchor="middle">1550</text><text x="82.06" y="341.2" text-anchor="middle">1550</text><text x="117.71" y="22.8" text-anchor="middle">1600</text><text x="117.71" y="341.2" text-anchor="middle">1600</text><text x="153.36" y="22.8" text-anchor="middle">1650</text><text x="153.36" y="341.2" text-anchor="middle">1650</text><text x="189.02" y="22.8" text-anchor="middle">1700</text><text x="189.02" y="341.2" text-anchor="middle">1700</text><text x="224.67" y="22.8" text-anchor="middle">1750</text><text x="224.67" y="341.2" text-anchor="middle">1750</text><text x="260.33" y="22.8" text-anchor="middle">1800</text><text x="260.33" y="341.2" text-anchor="middle">1800</text><text x="295.98" y="22.8" text-anchor="middle">1850</text><text x="295.98" y="341.2" text-anchor="middle">1850</text><text x="331.64" y="22.8" text-anchor="middle">1900</text><text x="331.64" y="341.2" text-anchor="middle">1900</text><text x="367.29" y="22.8" text-anchor="middle">1950</text><text x="367.29" y="341.2" text-anchor="middle">1950</text><text x="25.8" y="173.71" text-anchor="end">-25</text><text x="396.5" y="173.71">-25</text><text x="25.8" y="158.82" text-anchor="end">-24</text><text x="396.5" y="158.82">-24</text><text x="25.8" y="143.93" text-anchor="end">-23</text><text x="396.5" y="143.93">-23</text><text x="25.8" y="129.04" text-anchor="end">-22</text><text x="396.5" y="129.04">-22</text><text x="25.8" y="114.15" text-anchor="end">-21</text><text x="396.5" y="114.15">-21</text><text x="25.8" y="99.26" text-anchor="end">-20</text><text x="396.5" y="99.26">-20</text><text x="25.8" y="84.37" text-anchor="end">-19</text><text x="396.5" y="84.37">-19</text><text x="25.8" y="69.48" text-anchor="end">-18</text><text x="396.5" y="69.48">-18</text><text x="25.8" y="54.59" text-anchor="end">-17</text><text x="396.5" y="54.59">-17</text><text x="25.8" y="39.70" text-anchor="end">-16</text><text x="396.5" y="39.70">-16</text><text x="25.8" y="323.48" text-anchor="end">5</text><text x="396.5" y="323.48">5</text><text x="25.8" y="309.16" text-anchor="end">6</text><text x="396.5" y="309.16">6</text><text x="25.8" y="294.84" text-anchor="end">7</text><text x="396.5" y="294.84">7</text><text x="25.8" y="280.52" text-anchor="end">8</text><text x="396.5" y="280.52">8</text><text x="25.8" y="266.20" text-anchor="end">9</text><text x="396.5" y="266.20">9</text><text x="25.8" y="251.88" text-anchor="end">10</text><text x="396.5" y="251.88">10</text><text x="25.8" y="237.56" text-anchor="end">11</text><text x="396.5" y="237.56">11</text><text x="25.8" y="223.24" text-anchor="end">12</text><text x="396.5" y="223.24">12</text><text x="25.8" y="208.92" text-anchor="end">13</text><text x="396.5" y="208.92">13</text><text x="25.8" y="194.60" text-anchor="end">14</text><text x="396.5" y="194.60">14</text></g><g font-family="Liberation Sans, sans-serif" font-size="8.2" fill="#222"><text x="246.8" y="45.6" text-anchor="end">(1) Napoleonic Wars, 1803-15</text><text x="246.8" y="60.1" text-anchor="end">(2) High Farming, 1837-75</text></g><path d="M250.3 42.6H262.3M250.3 57H286.8" stroke="#555" stroke-width="0.9"/><text font-family="Liberation Sans, sans-serif" font-size="9" fill="#222" x="210" y="355" text-anchor="middle">Date of Document</text><text font-family="Liberation Sans, sans-serif" font-size="9.4" fill="#222" transform="translate(9.3,104.5) rotate(-90)" text-anchor="middle">δ<tspan font-size="6" dy="-3">13</tspan><tspan dy="3">C (‰)</tspan></text><text font-family="Liberation Sans, sans-serif" font-size="9.4" fill="#222" transform="translate(9.3,254.3) rotate(-90)" text-anchor="middle">δ<tspan font-size="6" dy="-3">15</tspan><tspan dy="3">N (‰)</tspan></text><text font-family="Liberation Sans, sans-serif" font-size="13" font-weight="bold" fill="#111" x="5" y="10.6">a</text><text font-family="Liberation Sans, sans-serif" font-size="13" font-weight="bold" fill="#111" x="431" y="10.6">b</text><rect x="577.20" y="29.50" width="14.30" height="299.00" fill="#d3e8d9"/><rect x="604.40" y="29.50" width="27.40" height="299.00" fill="#d3e8d9"/><clipPath id="cb"><rect x="457.5" y="29.5" width="202.0" height="299.0"/></clipPath><g clip-path="url(#cb)"><polygon points="466.50,115.60 473.86,120.00 481.21,125.00 488.56,117.50 495.92,122.00 503.27,120.40 510.63,128.00 517.99,118.30 525.34,120.00 532.70,117.00 540.05,122.00 547.40,120.00 554.76,122.00 562.12,120.00 569.47,122.00 576.83,125.00 584.18,81.70 591.53,92.00 598.89,86.00 606.25,80.00 613.60,72.00 620.96,65.30 628.31,64.00 635.66,56.00 643.02,50.00 650.38,68.00 650.38,146.00 643.02,120.00 635.66,146.00 628.31,130.00 620.96,135.00 613.60,132.00 606.25,140.00 598.89,145.00 591.53,148.00 584.18,146.00 576.83,162.00 569.47,158.00 562.12,156.00 554.76,158.00 547.40,158.00 540.05,152.00 532.70,155.00 525.34,158.00 517.99,152.00 510.63,162.00 503.27,150.00 495.92,160.00 488.56,165.00 481.21,150.00 473.86,150.00 466.50,172.00" fill="#f59696" fill-opacity="0.19"/><polygon points="466.50,125.00 470.18,98.00 473.86,118.80 477.53,120.40 481.21,130.00 484.89,125.00 488.56,122.00 492.24,117.20 495.92,125.00 499.60,102.80 503.27,122.00 506.95,119.30 510.63,130.00 514.31,125.20 517.99,118.30 521.66,116.00 525.34,114.30 529.02,125.00 532.70,122.00 536.37,120.20 540.05,124.00 543.73,116.00 547.40,109.50 551.08,124.00 554.76,121.00 558.44,116.00 562.12,120.00 565.79,119.70 569.47,122.00 573.15,122.00 576.83,125.00 580.50,120.00 584.18,100.00 587.86,60.20 591.53,101.00 595.21,100.00 598.89,90.00 602.57,81.00 606.25,86.00 609.92,82.00 613.60,77.00 617.28,58.90 620.96,65.30 624.63,53.20 628.31,67.20 631.99,69.00 635.66,65.90 639.34,75.40 643.02,46.90 646.70,62.70 650.38,79.20 650.38,143.00 646.70,148.00 643.02,116.40 639.34,135.00 635.66,148.00 631.99,139.20 628.31,127.80 624.63,135.00 620.96,141.70 617.28,126.50 613.60,130.30 609.92,135.00 606.25,137.90 602.57,141.70 598.89,143.60 595.21,145.50 591.53,148.00 587.86,146.80 584.18,144.30 580.50,156.00 576.83,163.00 573.15,158.10 569.47,160.30 565.79,158.70 562.12,156.50 558.44,156.00 554.76,156.00 551.08,160.80 547.40,158.70 543.73,156.00 540.05,165.00 536.37,152.80 532.70,156.50 529.02,162.40 525.34,156.00 521.66,152.80 517.99,150.70 514.31,159.20 510.63,164.50 506.95,157.00 503.27,148.00 499.60,152.80 495.92,162.40 492.24,161.30 488.56,178.00 484.89,153.90 481.21,145.30 477.53,148.00 473.86,157.00 470.18,156.00 466.50,174.00" fill="#a0b0f8" fill-opacity="0.36"/><polygon points="466.50,207.00 470.18,210.50 473.86,209.80 477.53,211.30 481.21,182.20 484.89,209.80 488.56,207.60 492.24,205.30 495.92,203.80 499.60,191.90 503.27,227.70 506.95,220.20 510.63,215.00 514.31,211.30 517.99,212.80 521.66,202.30 525.34,212.00 529.02,200.10 532.70,209.00 536.37,211.30 540.05,183.00 543.73,218.70 547.40,223.20 551.08,212.80 554.76,191.90 558.44,218.50 562.12,229.30 565.79,224.70 569.47,211.70 573.15,229.30 576.83,239.00 580.50,235.00 584.18,235.00 587.86,234.00 591.53,224.70 595.21,203.20 598.89,234.00 602.57,220.00 606.25,209.30 609.92,208.60 613.60,214.70 617.28,215.40 620.96,207.00 624.63,215.40 628.31,200.00 631.99,216.20 635.66,216.20 639.34,219.00 643.02,234.00 646.70,228.00 650.38,217.00 650.38,295.50 646.70,272.40 643.02,260.10 639.34,266.30 635.66,284.70 631.99,274.00 628.31,271.70 624.63,269.40 620.96,267.80 617.28,268.60 613.60,267.80 609.92,263.20 606.25,260.10 602.57,266.30 598.89,275.50 595.21,279.40 591.53,281.70 587.86,282.50 584.18,281.70 580.50,275.50 576.83,271.70 573.15,299.40 569.47,284.80 565.79,283.30 562.12,282.50 558.44,283.30 554.76,284.80 551.08,280.90 547.40,278.60 543.73,277.80 540.05,275.50 536.37,294.00 532.70,277.00 529.02,295.40 525.34,281.70 521.66,284.00 517.99,322.10 514.31,291.00 510.63,314.40 506.95,292.50 503.27,287.10 499.60,279.40 495.92,271.60 492.24,309.50 488.56,299.50 484.89,288.60 481.21,277.00 477.53,278.60 473.86,301.70 470.18,285.50 466.50,289.40" fill="#f59696" fill-opacity="0.19"/><polygon points="466.50,211.30 470.18,207.50 473.86,206.80 477.53,208.30 481.21,209.00 484.89,206.80 488.56,204.60 492.24,202.30 495.92,200.80 499.60,212.00 503.27,224.70 506.95,217.20 510.63,212.00 514.31,208.30 517.99,209.80 521.66,209.80 525.34,209.00 529.02,207.50 532.70,206.00 536.37,208.30 540.05,211.30 543.73,215.70 547.40,220.20 551.08,209.80 554.76,201.60 558.44,215.50 562.12,226.30 565.79,221.70 569.47,217.80 573.15,226.30 576.83,236.00 580.50,232.00 584.18,232.00 587.86,231.00 591.53,221.70 595.21,229.00 598.89,231.00 602.57,217.00 606.25,212.40 609.92,211.70 613.60,211.70 617.28,212.40 620.96,212.40 624.63,212.40 628.31,212.40 631.99,213.20 635.66,213.20 639.34,221.70 643.02,231.00 646.70,225.00 650.38,214.00 650.38,290.90 646.70,275.40 643.02,263.10 639.34,269.30 635.66,281.60 631.99,277.00 628.31,274.70 624.63,272.40 620.96,270.80 617.28,271.60 613.60,270.80 609.92,266.20 606.25,263.10 602.57,269.30 598.89,278.50 595.21,282.40 591.53,284.70 587.86,285.50 584.18,284.70 580.50,278.50 576.83,274.70 573.15,284.00 569.47,287.80 565.79,286.30 562.12,285.50 558.44,286.30 554.76,287.80 551.08,283.90 547.40,281.60 543.73,280.80 540.05,278.50 536.37,278.50 532.70,280.00 529.02,282.40 525.34,284.70 521.66,287.00 517.99,290.10 514.31,294.00 510.63,298.60 506.95,295.50 503.27,290.10 499.60,282.40 495.92,274.60 492.24,290.10 488.56,302.50 484.89,291.60 481.21,280.00 477.53,281.60 473.86,285.50 470.18,288.50 466.50,292.40" fill="#a0b0f8" fill-opacity="0.36"/></g><path d="M466.50 143.90 L473.86 133.50 L481.21 137.40 L488.56 140.20 L495.92 141.30 L503.27 132.40 L510.63 146.50 L517.99 133.50 L525.34 139.70 L532.70 140.00 L540.05 135.80 L547.40 140.30 L554.76 141.40 L562.12 138.60 L569.47 140.30 L576.83 143.80 L584.18 113.00 L591.53 123.00 L598.89 118.00 L606.25 112.80 L613.60 102.30 L620.96 102.20 L628.31 97.30 L635.66 108.10 L643.02 85.50 L650.38 114.00" fill="none" stroke="#ee2a2a" stroke-width="1.15" stroke-linejoin="round"/><g fill="#fff" stroke="#ee2a2a" stroke-width="0.8"><circle cx="466.50" cy="143.90" r="1.45"/><circle cx="473.86" cy="133.50" r="1.45"/><circle cx="481.21" cy="137.40" r="1.45"/><circle cx="488.56" cy="140.20" r="1.45"/><circle cx="495.92" cy="141.30" r="1.45"/><circle cx="503.27" cy="132.40" r="1.45"/><circle cx="510.63" cy="146.50" r="1.45"/><circle cx="517.99" cy="133.50" r="1.45"/><circle cx="525.34" cy="139.70" r="1.45"/><circle cx="532.70" cy="140.00" r="1.45"/><circle cx="540.05" cy="135.80" r="1.45"/><circle cx="547.40" cy="140.30" r="1.45"/><circle cx="554.76" cy="141.40" r="1.45"/><circle cx="562.12" cy="138.60" r="1.45"/><circle cx="569.47" cy="140.30" r="1.45"/><circle cx="576.83" cy="143.80" r="1.45"/><circle cx="584.18" cy="113.00" r="1.45"/><circle cx="591.53" cy="123.00" r="1.45"/><circle cx="598.89" cy="118.00" r="1.45"/><circle cx="606.25" cy="112.80" r="1.45"/><circle cx="613.60" cy="102.30" r="1.45"/><circle cx="620.96" cy="102.20" r="1.45"/><circle cx="628.31" cy="97.30" r="1.45"/><circle cx="635.66" cy="108.10" r="1.45"/><circle cx="643.02" cy="85.50" r="1.45"/><circle cx="650.38" cy="114.00" r="1.45"/></g><path d="M466.50 153.90 L470.18 126.60 L473.86 138.60 L477.53 127.30 L481.21 135.20 L484.89 139.60 L488.56 156.10 L492.24 136.10 L495.92 148.10 L499.60 129.70 L503.27 135.80 L506.95 132.40 L510.63 144.80 L514.31 147.60 L517.99 135.20 L521.66 135.00 L525.34 127.60 L529.02 148.70 L532.70 142.00 L536.37 138.00 L540.05 142.00 L543.73 135.40 L547.40 133.00 L551.08 146.50 L554.76 144.20 L558.44 135.20 L562.12 139.70 L565.79 139.50 L569.47 141.20 L573.15 140.10 L576.83 146.00 L580.50 142.50 L584.18 133.90 L587.86 88.90 L591.53 124.10 L595.21 123.10 L598.89 123.10 L602.57 112.30 L606.25 115.00 L609.92 112.60 L613.60 108.10 L617.28 91.50 L620.96 112.70 L624.63 95.00 L628.31 93.40 L631.99 100.30 L635.66 109.10 L639.34 109.10 L643.02 79.60 L646.70 106.80 L650.38 122.50" fill="none" stroke="#2020f0" stroke-width="1.15" stroke-linejoin="round"/><g fill="#fff" stroke="#2020f0" stroke-width="0.8"><circle cx="466.50" cy="153.90" r="1.45"/><circle cx="470.18" cy="126.60" r="1.45"/><circle cx="473.86" cy="138.60" r="1.45"/><circle cx="477.53" cy="127.30" r="1.45"/><circle cx="481.21" cy="135.20" r="1.45"/><circle cx="484.89" cy="139.60" r="1.45"/><circle cx="488.56" cy="156.10" r="1.45"/><circle cx="492.24" cy="136.10" r="1.45"/><circle cx="495.92" cy="148.10" r="1.45"/><circle cx="499.60" cy="129.70" r="1.45"/><circle cx="503.27" cy="135.80" r="1.45"/><circle cx="506.95" cy="132.40" r="1.45"/><circle cx="510.63" cy="144.80" r="1.45"/><circle cx="514.31" cy="147.60" r="1.45"/><circle cx="517.99" cy="135.20" r="1.45"/><circle cx="521.66" cy="135.00" r="1.45"/><circle cx="525.34" cy="127.60" r="1.45"/><circle cx="529.02" cy="148.70" r="1.45"/><circle cx="532.70" cy="142.00" r="1.45"/><circle cx="536.37" cy="138.00" r="1.45"/><circle cx="540.05" cy="142.00" r="1.45"/><circle cx="543.73" cy="135.40" r="1.45"/><circle cx="547.40" cy="133.00" r="1.45"/><circle cx="551.08" cy="146.50" r="1.45"/><circle cx="554.76" cy="144.20" r="1.45"/><circle cx="558.44" cy="135.20" r="1.45"/><circle cx="562.12" cy="139.70" r="1.45"/><circle cx="565.79" cy="139.50" r="1.45"/><circle cx="569.47" cy="141.20" r="1.45"/><circle cx="573.15" cy="140.10" r="1.45"/><circle cx="576.83" cy="146.00" r="1.45"/><circle cx="580.50" cy="142.50" r="1.45"/><circle cx="584.18" cy="133.90" r="1.45"/><circle cx="587.86" cy="88.90" r="1.45"/><circle cx="591.53" cy="124.10" r="1.45"/><circle cx="595.21" cy="123.10" r="1.45"/><circle cx="598.89" cy="123.10" r="1.45"/><circle cx="602.57" cy="112.30" r="1.45"/><circle cx="606.25" cy="115.00" r="1.45"/><circle cx="609.92" cy="112.60" r="1.45"/><circle cx="613.60" cy="108.10" r="1.45"/><circle cx="617.28" cy="91.50" r="1.45"/><circle cx="620.96" cy="112.70" r="1.45"/><circle cx="624.63" cy="95.00" r="1.45"/><circle cx="628.31" cy="93.40" r="1.45"/><circle cx="631.99" cy="100.30" r="1.45"/><circle cx="635.66" cy="109.10" r="1.45"/><circle cx="639.34" cy="109.10" r="1.45"/><circle cx="643.02" cy="79.60" r="1.45"/><circle cx="646.70" cy="106.80" r="1.45"/><circle cx="650.38" cy="122.50" r="1.45"/></g><path d="M466.50 252.90 L473.86 245.60 L481.21 244.70 L488.56 254.20 L495.92 235.70 L503.27 256.10 L510.63 255.60 L517.99 250.70 L525.34 247.60 L532.70 242.00 L540.05 244.00 L547.40 251.40 L554.76 243.80 L562.12 255.60 L569.47 252.60 L576.83 257.30 L584.18 262.90 L591.53 254.20 L598.89 258.00 L606.25 236.90 L613.60 241.90 L620.96 241.50 L628.31 242.50 L635.66 247.40 L643.02 253.00 L650.38 248.80" fill="none" stroke="#ee2a2a" stroke-width="1.15" stroke-linejoin="round"/><g fill="#fff" stroke="#ee2a2a" stroke-width="0.8"><circle cx="466.50" cy="252.90" r="1.45"/><circle cx="473.86" cy="245.60" r="1.45"/><circle cx="481.21" cy="244.70" r="1.45"/><circle cx="488.56" cy="254.20" r="1.45"/><circle cx="495.92" cy="235.70" r="1.45"/><circle cx="503.27" cy="256.10" r="1.45"/><circle cx="510.63" cy="255.60" r="1.45"/><circle cx="517.99" cy="250.70" r="1.45"/><circle cx="525.34" cy="247.60" r="1.45"/><circle cx="532.70" cy="242.00" r="1.45"/><circle cx="540.05" cy="244.00" r="1.45"/><circle cx="547.40" cy="251.40" r="1.45"/><circle cx="554.76" cy="243.80" r="1.45"/><circle cx="562.12" cy="255.60" r="1.45"/><circle cx="569.47" cy="252.60" r="1.45"/><circle cx="576.83" cy="257.30" r="1.45"/><circle cx="584.18" cy="262.90" r="1.45"/><circle cx="591.53" cy="254.20" r="1.45"/><circle cx="598.89" cy="258.00" r="1.45"/><circle cx="606.25" cy="236.90" r="1.45"/><circle cx="613.60" cy="241.90" r="1.45"/><circle cx="620.96" cy="241.50" r="1.45"/><circle cx="628.31" cy="242.50" r="1.45"/><circle cx="635.66" cy="247.40" r="1.45"/><circle cx="643.02" cy="253.00" r="1.45"/><circle cx="650.38" cy="248.80" r="1.45"/></g><path d="M466.50 250.70 L470.18 253.00 L473.86 256.70 L477.53 223.90 L481.21 219.30 L484.89 261.20 L488.56 242.30 L492.24 255.90 L495.92 240.10 L499.60 220.60 L503.27 237.30 L506.95 259.00 L510.63 263.80 L514.31 247.80 L517.99 285.80 L521.66 230.80 L525.34 239.20 L529.02 252.50 L532.70 235.10 L536.37 255.90 L540.05 233.30 L543.73 245.80 L547.40 248.10 L551.08 250.20 L554.76 242.80 L558.44 239.80 L562.12 255.60 L565.79 255.10 L569.47 243.40 L573.15 264.00 L576.83 257.00 L580.50 248.60 L584.18 258.70 L587.86 264.00 L591.53 254.20 L595.21 241.90 L598.89 262.90 L602.57 246.80 L606.25 235.50 L609.92 233.70 L613.60 238.50 L617.28 243.20 L620.96 238.00 L624.63 241.80 L628.31 237.60 L631.99 242.50 L635.66 247.40 L639.34 241.30 L643.02 252.60 L646.70 251.20 L650.38 263.30" fill="none" stroke="#2020f0" stroke-width="1.15" stroke-linejoin="round"/><g fill="#fff" stroke="#2020f0" stroke-width="0.8"><circle cx="466.50" cy="250.70" r="1.45"/><circle cx="470.18" cy="253.00" r="1.45"/><circle cx="473.86" cy="256.70" r="1.45"/><circle cx="477.53" cy="223.90" r="1.45"/><circle cx="481.21" cy="219.30" r="1.45"/><circle cx="484.89" cy="261.20" r="1.45"/><circle cx="488.56" cy="242.30" r="1.45"/><circle cx="492.24" cy="255.90" r="1.45"/><circle cx="495.92" cy="240.10" r="1.45"/><circle cx="499.60" cy="220.60" r="1.45"/><circle cx="503.27" cy="237.30" r="1.45"/><circle cx="506.95" cy="259.00" r="1.45"/><circle cx="510.63" cy="263.80" r="1.45"/><circle cx="514.31" cy="247.80" r="1.45"/><circle cx="517.99" cy="285.80" r="1.45"/><circle cx="521.66" cy="230.80" r="1.45"/><circle cx="525.34" cy="239.20" r="1.45"/><circle cx="529.02" cy="252.50" r="1.45"/><circle cx="532.70" cy="235.10" r="1.45"/><circle cx="536.37" cy="255.90" r="1.45"/><circle cx="540.05" cy="233.30" r="1.45"/><circle cx="543.73" cy="245.80" r="1.45"/><circle cx="547.40" cy="248.10" r="1.45"/><circle cx="551.08" cy="250.20" r="1.45"/><circle cx="554.76" cy="242.80" r="1.45"/><circle cx="558.44" cy="239.80" r="1.45"/><circle cx="562.12" cy="255.60" r="1.45"/><circle cx="565.79" cy="255.10" r="1.45"/><circle cx="569.47" cy="243.40" r="1.45"/><circle cx="573.15" cy="264.00" r="1.45"/><circle cx="576.83" cy="257.00" r="1.45"/><circle cx="580.50" cy="248.60" r="1.45"/><circle cx="584.18" cy="258.70" r="1.45"/><circle cx="587.86" cy="264.00" r="1.45"/><circle cx="591.53" cy="254.20" r="1.45"/><circle cx="595.21" cy="241.90" r="1.45"/><circle cx="598.89" cy="262.90" r="1.45"/><circle cx="602.57" cy="246.80" r="1.45"/><circle cx="606.25" cy="235.50" r="1.45"/><circle cx="609.92" cy="233.70" r="1.45"/><circle cx="613.60" cy="238.50" r="1.45"/><circle cx="617.28" cy="243.20" r="1.45"/><circle cx="620.96" cy="238.00" r="1.45"/><circle cx="624.63" cy="241.80" r="1.45"/><circle cx="628.31" cy="237.60" r="1.45"/><circle cx="631.99" cy="242.50" r="1.45"/><circle cx="635.66" cy="247.40" r="1.45"/><circle cx="639.34" cy="241.30" r="1.45"/><circle cx="643.02" cy="252.60" r="1.45"/><circle cx="646.70" cy="251.20" r="1.45"/><circle cx="650.38" cy="263.30" r="1.45"/></g><g stroke="#626262" stroke-width="1.25" fill="none"><rect x="457.5" y="29.5" width="202.0" height="299.0"/><line x1="457.5" y1="179.5" x2="659.5" y2="179.5"/></g><path d="M466.5 29.5v-3M466.5 328.5v3M466.5 176.5v6M473.5 29.5v-1.7M473.5 328.5v1.7M481.5 29.5v-1.7M481.5 328.5v1.7M488.5 29.5v-1.7M488.5 328.5v1.7M495.5 29.5v-1.7M495.5 328.5v1.7M503.5 29.5v-3M503.5 328.5v3M503.5 176.5v6M510.5 29.5v-1.7M510.5 328.5v1.7M517.5 29.5v-1.7M517.5 328.5v1.7M525.5 29.5v-1.7M525.5 328.5v1.7M532.5 29.5v-1.7M532.5 328.5v1.7M540.5 29.5v-3M540.5 328.5v3M540.5 176.5v6M547.5 29.5v-1.7M547.5 328.5v1.7M554.5 29.5v-1.7M554.5 328.5v1.7M562.5 29.5v-1.7M562.5 328.5v1.7M569.5 29.5v-1.7M569.5 328.5v1.7M576.5 29.5v-3M576.5 328.5v3M576.5 176.5v6M584.5 29.5v-1.7M584.5 328.5v1.7M591.5 29.5v-1.7M591.5 328.5v1.7M598.5 29.5v-1.7M598.5 328.5v1.7M606.5 29.5v-1.7M606.5 328.5v1.7M613.5 29.5v-3M613.5 328.5v3M613.5 176.5v6M620.5 29.5v-1.7M620.5 328.5v1.7M628.5 29.5v-1.7M628.5 328.5v1.7M635.5 29.5v-1.7M635.5 328.5v1.7M643.5 29.5v-1.7M643.5 328.5v1.7M650.5 29.5v-3M650.5 328.5v3M650.5 176.5v6M457.5 35.50h-3M659.5 35.50h3M457.5 58.50h-3M659.5 58.50h3M457.5 81.50h-3M659.5 81.50h3M457.5 104.50h-3M659.5 104.50h3M457.5 127.50h-3M659.5 127.50h3M457.5 150.50h-3M659.5 150.50h3M457.5 172.50h-3M659.5 172.50h3M457.5 190.50h-3M659.5 190.50h3M457.5 202.50h-3M659.5 202.50h3M457.5 214.50h-3M659.5 214.50h3M457.5 226.50h-3M659.5 226.50h3M457.5 239.50h-3M659.5 239.50h3M457.5 252.50h-3M659.5 252.50h3M457.5 265.50h-3M659.5 265.50h3M457.5 279.50h-3M659.5 279.50h3M457.5 292.50h-3M659.5 292.50h3M457.5 305.50h-3M659.5 305.50h3M457.5 318.50h-3M659.5 318.50h3" stroke="#333" stroke-width="0.9" fill="none"/><g font-family="Liberation Sans, sans-serif" font-size="8.2" fill="#222"><text x="466.50" y="22.8" text-anchor="middle">1650</text><text x="466.50" y="341.2" text-anchor="middle">1650</text><text x="503.27" y="22.8" text-anchor="middle">1700</text><text x="503.27" y="341.2" text-anchor="middle">1700</text><text x="540.05" y="22.8" text-anchor="middle">1750</text><text x="540.05" y="341.2" text-anchor="middle">1750</text><text x="576.83" y="22.8" text-anchor="middle">1800</text><text x="576.83" y="341.2" text-anchor="middle">1800</text><text x="613.60" y="22.8" text-anchor="middle">1850</text><text x="613.60" y="341.2" text-anchor="middle">1850</text><text x="650.38" y="22.8" text-anchor="middle">1900</text><text x="650.38" y="341.2" text-anchor="middle">1900</text><text x="452.7" y="38.90" text-anchor="end">-20.5</text><text x="664.3" y="38.90">-20.5</text><text x="452.7" y="61.77" text-anchor="end">-21</text><text x="664.3" y="61.77">-21</text><text x="452.7" y="84.63" text-anchor="end">-21.5</text><text x="664.3" y="84.63">-21.5</text><text x="452.7" y="107.50" text-anchor="end">-22</text><text x="664.3" y="107.50">-22</text><text x="452.7" y="130.36" text-anchor="end">-22.5</text><text x="664.3" y="130.36">-22.5</text><text x="452.7" y="153.22" text-anchor="end">-23</text><text x="664.3" y="153.22">-23</text><text x="452.7" y="176.09" text-anchor="end">-23.5</text><text x="664.3" y="176.09">-23.5</text><text x="452.7" y="308.40" text-anchor="end">7</text><text x="665.2" y="308.40">7</text><text x="452.7" y="282.30" text-anchor="end">8</text><text x="665.2" y="282.30">8</text><text x="452.7" y="256.10" text-anchor="end">9</text><text x="665.2" y="256.10">9</text><text x="452.7" y="229.50" text-anchor="end">10</text><text x="665.2" y="229.50">10</text><text x="452.7" y="205.30" text-anchor="end">11</text><text x="665.2" y="205.30">11</text></g><text font-family="Liberation Sans, sans-serif" font-size="9" fill="#222" x="557" y="355" text-anchor="middle">Date of Document</text><text font-family="Liberation Sans, sans-serif" font-size="9.4" fill="#222" transform="translate(430.3,104.5) rotate(-90)" text-anchor="middle">δ<tspan font-size="6" dy="-3">13</tspan><tspan dy="3">C (‰)</tspan></text><text font-family="Liberation Sans, sans-serif" font-size="9.4" fill="#222" transform="translate(441,254.3) rotate(-90)" text-anchor="middle">δ<tspan font-size="6" dy="-3">15</tspan><tspan dy="3">N (‰)</tspan></text><rect x="462.4" y="37.3" width="9.4" height="6.8" fill="#a0b0f8" fill-opacity="0.36"/><rect x="462.4" y="61.7" width="9.4" height="6.8" fill="#f59696" fill-opacity="0.19"/><path d="M462.4 40.7h9.4" stroke="#2020f0" stroke-width="1.3"/><circle cx="467.1" cy="40.7" r="1.45" fill="#fff" stroke="#2020f0" stroke-width="0.8"/><path d="M462.4 65.2h9.4" stroke="#ee2a2a" stroke-width="1.3"/><circle cx="467.1" cy="65.2" r="1.45" fill="#fff" stroke="#ee2a2a" stroke-width="0.8"/><g font-family="Liberation Sans, sans-serif" font-size="8.2" fill="#222"><text x="474.6" y="44.1">5 year average</text><text x="474.6" y="53.6">± 1 SD</text><text x="474.6" y="68.5">10 year average</text><text x="473.3" y="78">± 1 SD</text><text x="551.8" y="45.6">(1)</text><text x="551.8" y="60.2">(2)</text></g><path d="M565.5 42.8H577.2M565.5 57.4H604.4" stroke="#555" stroke-width="0.9"/></svg>
</body></html>
